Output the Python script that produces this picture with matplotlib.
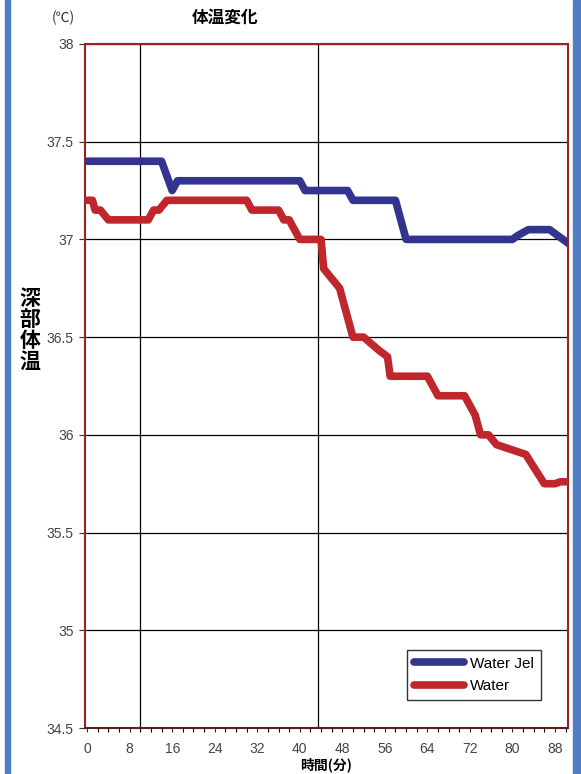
import matplotlib
matplotlib.use("Agg")
import matplotlib.pyplot as plt
from matplotlib.patches import Rectangle
from matplotlib.ticker import MultipleLocator

plt.rcParams['font.family'] = ['Liberation Sans', 'Noto Sans CJK JP', 'DejaVu Sans']

# breakpoints (minutes, deg C)
jel_t = [0, 14, 16, 17, 40, 41, 49, 50, 58, 60, 80, 81, 83, 87, 90.5]
jel_v = [37.4, 37.4, 37.25, 37.3, 37.3, 37.25, 37.25, 37.2, 37.2, 37.0, 37.0, 37.02, 37.05, 37.05, 36.98]

water_t = [0, 1, 1.5, 2.5, 4, 11.5, 12.5, 13.5, 15, 30, 31, 36, 37, 38, 40, 44, 44.5,
           46, 47.5, 50, 52, 55, 56.5, 57, 64, 66, 71, 73, 74, 75.5, 77, 82.5, 86, 88, 89, 90.5]
water_v = [37.2, 37.2, 37.15, 37.15, 37.1, 37.1, 37.15, 37.15, 37.2, 37.2, 37.15, 37.15, 37.1, 37.1,
           37.0, 37.0, 36.85, 36.8, 36.75, 36.5, 36.5, 36.43, 36.4, 36.3, 36.3, 36.2, 36.2, 36.1,
           36.0, 36.0, 35.95, 35.9, 35.75, 35.75, 35.76, 35.76]

yticks = [34.5, 35, 35.5, 36, 36.5, 37, 37.5, 38]
xticks = [0, 8, 16, 24, 32, 40, 48, 56, 64, 72, 80, 88]
marks = [10, 43.5]

fig = plt.figure(figsize=(5.81, 7.74), dpi=100)
ax = fig.add_axes([0.1463, 0.0594, 0.9776 - 0.1463, 0.9432 - 0.0594])

for y in yticks:
    ax.axhline(y, color='black', lw=0.9, zorder=1)
for x in marks:
    ax.axvline(x, color='black', lw=0.9, zorder=1)

ax.plot(jel_t, jel_v, color='#33348f', lw=5.5, solid_joinstyle='round',
        solid_capstyle='round', label='Water Jel', zorder=3)
ax.plot(water_t, water_v, color='#c0272d', lw=5.5, solid_joinstyle='round',
        solid_capstyle='round', label='Water', zorder=3)

ax.set_xlim(-0.4, 90.45)
ax.set_ylim(34.5, 38)
ax.set_yticks(yticks)
ax.set_yticklabels([f"{v:g}" for v in yticks])
ax.set_xticks(xticks)
ax.xaxis.set_minor_locator(MultipleLocator(2))
ax.tick_params(axis='both', colors='#333333', labelcolor='#444444', labelsize=10)
ax.tick_params(axis='x', which='both', length=3, width=0.8, pad=7)
ax.tick_params(axis='y', length=4, width=0.8, pad=4)

for s in ax.spines.values():
    s.set_color('#9b2222')
    s.set_linewidth(1.5)
ax.spines['bottom'].set_color('#5a1f1f')

leg = ax.legend(loc='lower right', bbox_to_anchor=(0.96, 0.03), fontsize=11,
                handlelength=3.3, frameon=True, fancybox=False, borderpad=0.45,
                labelspacing=0.55, handletextpad=0.4)
leg.get_frame().set_edgecolor('black')
leg.get_frame().set_linewidth(1)

ax.set_xlabel('時間(分)', fontsize=10, fontweight='bold', labelpad=0,
              family=['Noto Sans CJK JP', 'DejaVu Sans'])
ax.xaxis.set_label_coords(0.5, -0.043)

fig.text(225 / 581, 1 - 18 / 774, '体温変化', fontsize=12, fontweight='bold',
         ha='center', va='center', family=['Noto Sans CJK JP', 'DejaVu Sans'])
fig.text(63 / 581, 1 - 18 / 774, '(℃)', fontsize=10, color='#333333',
         ha='center', va='center', family=['Noto Sans CJK JP', 'DejaVu Sans'])
fig.text(30 / 581, 1 - 330 / 774, '深\n部\n体\n温', fontsize=15, fontweight='bold',
         ha='center', va='center', linespacing=1.0,
         family=['Noto Sans CJK JP', 'DejaVu Sans'])

# blue frame strips at the sides
fig.patches.append(Rectangle((5 / 581, 0), 5 / 581, 1, transform=fig.transFigure,
                             color='#4f7ec4', zorder=0))
fig.patches.append(Rectangle((573 / 581, 0), 8 / 581, 1, transform=fig.transFigure,
                             color='#4f7ec4', zorder=0))

fig.savefig('out.png', dpi=100)
